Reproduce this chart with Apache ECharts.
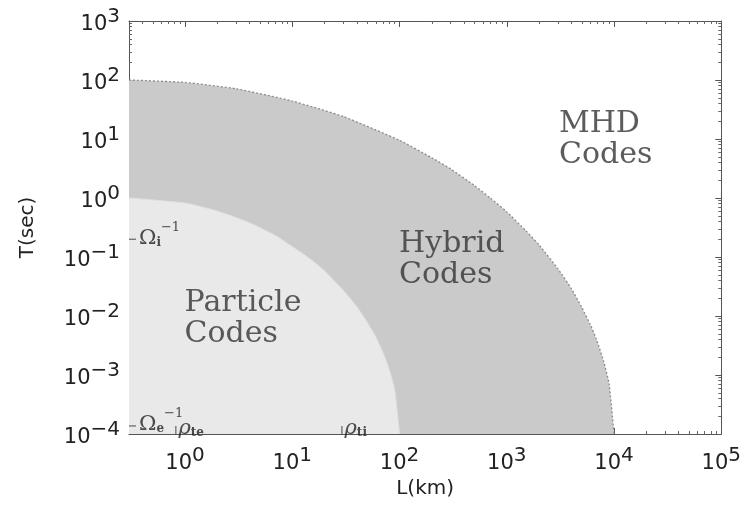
<!DOCTYPE html>
<html>
<head>
<meta charset="utf-8">
<script src="https://cdn.jsdelivr.net/npm/echarts@6/dist/echarts.min.js"></script>
<style>
  html, body { margin: 0; padding: 0; background: #fff; }
  #chart { width: 744px; height: 508px; }
</style>
</head>
<body>
<div id="chart"></div>
<script>
// Upper boundary of the hybrid-code regime: length scale L (km) and time scale T (s)
const hybridL = [0.3, 1, 3, 10, 30, 100, 200, 300, 500, 700, 1000, 1500, 2000, 3000, 4000, 5000, 6000, 7000, 8000, 9000, 10000];
const hybridT = [100, 91, 71, 44, 24, 9.5, 4.8, 3.1, 1.62, 1.0, 0.58, 0.28, 0.16, 0.063, 0.029, 0.014, 0.0072, 0.0036, 0.0017, 0.0007, 0.0001];

// Upper boundary of the particle-code regime
const particleL = [0.3, 1, 2, 4, 7, 10, 15, 20, 30, 40, 50, 60, 70, 80, 90, 100];
const particleT = [1, 0.82, 0.6, 0.38, 0.23, 0.15, 0.09, 0.058, 0.027, 0.0143, 0.0078, 0.0044, 0.0024, 0.00125, 0.00057, 0.0001];

// Axis ranges
const xRange = [0.3, 100000];
const yRange = [0.0001, 1000];

// Region names and where their text sits (data coordinates of the text's top-left)
const regionNames = ['MHD\nCodes', 'Hybrid\nCodes', 'Particle\nCodes'];
const regionAtL = [3100, 100, 1];
const regionAtT = [32, 0.3, 0.03];

// Characteristic scales marked along the axes
const gyroIonT = 0.2;        // Ω_i^-1
const gyroElecT = 0.000137;  // Ω_e^-1
const rhoElecL = 0.82;       // ρ_te
const rhoIonL = 29;          // ρ_ti

const pairs = (xs, ys) => xs.map((x, i) => [x, ys[i]]);

const INK = '#222';
const SANS = 'DejaVu Sans';
const SERIF = 'DejaVu Serif';

function powLabel(v) {
  const e = Math.log10(v);
  const r = Math.round(e);
  if (Math.abs(e - r) > 1e-6) return '';
  return '{b|10}{s|' + String(r).replace('-', '\u2212') + '}';
}
const powRich = {
  b: { fontFamily: SANS, fontSize: 21, color: INK, verticalAlign: 'bottom' },
  s: { fontFamily: SANS, fontSize: 20, color: INK, verticalAlign: 'top', lineHeight: 28 }
};
const symRich = {
  o: { fontFamily: SERIF, fontSize: 21, color: INK, verticalAlign: 'bottom', lineHeight: 28 },
  r: { fontFamily: SERIF, fontSize: 21, fontStyle: 'italic', color: INK, verticalAlign: 'bottom', lineHeight: 28 },
  sb: { fontFamily: SERIF, fontSize: 12, color: INK, verticalAlign: 'bottom', fontWeight: 'bold' },
  sp: { fontFamily: SERIF, fontSize: 13, color: INK, verticalAlign: 'top' }
};

const boxAxisLine = { show: true, lineStyle: { color: '#555', width: 1 } };
const majorTick = { show: true, inside: true, length: 6, lineStyle: { color: '#555', width: 1 } };
const minorTick = { show: true, splitNumber: 9, length: 3, lineStyle: { color: '#666', width: 1 } };

const chart = echarts.init(document.getElementById('chart'), null, { renderer: 'canvas' });

chart.setOption({
  animation: false,
  backgroundColor: '#fff',
  grid: { left: 129, right: 21, top: 21, bottom: 74 },
  xAxis: [
    {
      type: 'log', logBase: 10, min: xRange[0], max: xRange[1],
      position: 'bottom',
      name: 'L(km)', nameLocation: 'middle', nameGap: 45,
      nameTextStyle: { fontFamily: SANS, fontSize: 20, color: INK },
      axisLine: boxAxisLine, axisTick: majorTick, minorTick: minorTick,
      splitLine: { show: false }, minorSplitLine: { show: false },
      axisLabel: { formatter: powLabel, rich: powRich, margin: 12, showMinLabel: true, showMaxLabel: true }
    },
    {
      type: 'log', logBase: 10, min: xRange[0], max: xRange[1],
      position: 'top',
      axisLine: boxAxisLine, axisTick: majorTick, minorTick: minorTick,
      splitLine: { show: false }, axisLabel: { show: false }
    }
  ],
  yAxis: [
    {
      type: 'log', logBase: 10, min: yRange[0], max: yRange[1],
      position: 'left',
      name: 'T(sec)', nameLocation: 'middle', nameGap: 91, nameRotate: 90,
      nameTextStyle: { fontFamily: SANS, fontSize: 20, color: INK },
      axisLine: boxAxisLine, axisTick: majorTick, minorTick: minorTick,
      splitLine: { show: false }, minorSplitLine: { show: false },
      axisLabel: { formatter: powLabel, rich: powRich, margin: 9 }
    },
    {
      type: 'log', logBase: 10, min: yRange[0], max: yRange[1],
      position: 'right',
      axisLine: boxAxisLine, axisTick: majorTick, minorTick: minorTick,
      splitLine: { show: false }, axisLabel: { show: false }
    }
  ],
  series: [
    {
      name: 'Hybrid',
      type: 'line',
      data: pairs(hybridL, hybridT),
      smooth: 0.15,
      symbol: 'none',
      clip: true,
      lineStyle: { color: '#8c8c8c', width: 1.3, type: [2, 2] },
      areaStyle: { color: '#cacaca', opacity: 1, origin: 'start' },
      z: 3
    },
    {
      name: 'Particle',
      type: 'line',
      data: pairs(particleL, particleT),
      smooth: 0.15,
      symbol: 'none',
      clip: true,
      lineStyle: { color: '#e0e0e0', width: 1 },
      areaStyle: { color: '#e9e9e9', opacity: 1, origin: 'start' },
      z: 4
    },
    {
      name: 'Regions',
      type: 'scatter',
      symbolSize: 1,
      itemStyle: { color: 'rgba(0,0,0,0)' },
      data: regionNames.map((n, i) => ({ value: [regionAtL[i], regionAtT[i]], name: n })),
      label: {
        show: true, position: [0, 0],
        formatter: p => p.name,
        fontFamily: SERIF, fontSize: 30, lineHeight: 31, color: '#333', align: 'left'
      },
      silent: true,
      z: 6
    },
    {
      name: 'Scales',
      type: 'scatter',
      silent: true,
      z: 7,
      itemStyle: { color: '#444' },
      data: [
        {
          value: [xRange[0], gyroIonT], symbol: 'rect', symbolSize: [7, 1.2], symbolOffset: [3.5, 0],
          label: { show: true, position: 'right', distance: 3, offset: [0, -4], formatter: '{o|\u03A9}{sb|i}{sp|\u22121}', rich: symRich }
        },
        {
          value: [xRange[0], gyroElecT], symbol: 'rect', symbolSize: [7, 1.2], symbolOffset: [3.5, 0],
          label: { show: true, position: 'right', distance: 3, offset: [0, -5], formatter: '{o|\u03A9}{sb|e}{sp|\u22121}', rich: symRich }
        },
        {
          value: [rhoElecL, yRange[0]], symbol: 'rect', symbolSize: [1.2, 8], symbolOffset: [0, -4],
          label: { show: true, position: 'right', distance: 2, offset: [0, -5], formatter: '{r|\u03C1}{sb|te}', rich: symRich }
        },
        {
          value: [rhoIonL, yRange[0]], symbol: 'rect', symbolSize: [1.2, 8], symbolOffset: [0, -4],
          label: { show: true, position: 'right', distance: 2, offset: [0, -5], formatter: '{r|\u03C1}{sb|ti}', rich: symRich }
        }
      ]
    }
  ]
});
</script>
</body>
</html>
